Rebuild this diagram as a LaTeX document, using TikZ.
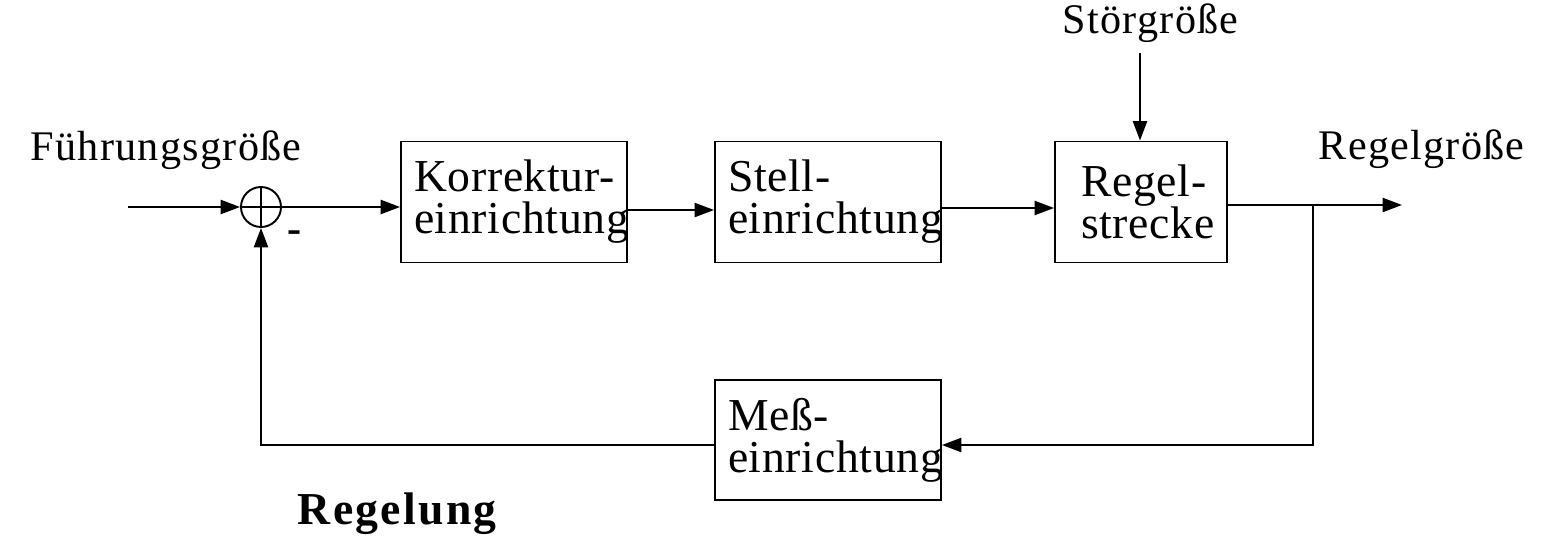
\documentclass[tikz,border=0pt]{standalone}
\usepackage{fontspec}
\setmainfont{Liberation Serif}
\newfontfamily\lblfont{Liberation Serif}[LetterSpace=3]
\newfontfamily\boxfont{Liberation Serif}[LetterSpace=1.5]
\newfontfamily\ttlfont{Liberation Serif}[LetterSpace=5]
\usetikzlibrary{arrows.meta}
\exhyphenpenalty=10000
\hyphenpenalty=10000
\hbadness=10000
\hfuzz=100pt
\begin{document}
\begin{tikzpicture}[x=0.02cm,y=-0.02cm,
  line width=1.1pt,
  conn/.style={-{Triangle[length=11pt,width=8pt]}},
  blk/.style={draw,rectangle,inner ysep=0pt,minimum height=2.42cm,align=left,
    font=\boxfont\fontsize{26}{23.9}\selectfont},
  wide/.style={blk,minimum width=4.52cm,text width=4.0cm,inner xsep=0.26cm},
  lbl/.style={inner sep=0pt,anchor=base west,font=\lblfont\fontsize{24}{24}\selectfont}]
\useasboundingbox (0,0) rectangle (1542,551);
% blocks
\node[wide] (K) at (514,202) {\mbox{Korrektur-}\\\mbox{einrichtung}};
\node[wide] (S) at (828,202) {\mbox{Stell-}\\\mbox{einrichtung}};
\node[blk,minimum width=3.44cm,text width=2.4cm,inner xsep=0.52cm] (R) at (1141,202) {\mbox{Regel-}\\\mbox{strecke}};
\node[wide,minimum height=2.4cm] (M) at (828,440) {\mbox{Meß-}\\\mbox{einrichtung}};
% summing junction
\node[draw,circle,minimum size=0.8cm,inner sep=0pt] (sum) at (261,207) {};
\draw (sum.north) -- (sum.south) (sum.west) -- (sum.east);
% labels
\node[lbl] (fg) at (30,160) {Führungsgröße};
\node[lbl] (rg) at (1318,159) {Regelgröße};
\node[lbl] (sg) at (1062,33) {Störgröße};
\node[inner sep=0pt,anchor=base west,font=\ttlfont\bfseries\fontsize{26}{26}\selectfont] (title) at (297,524) {Regelung};
\node[inner sep=0pt,font=\bfseries\fontsize{24}{24}\selectfont] (minus) at (295,237) {-};
% coordinates
\coordinate (in) at (128,207);
\coordinate (out) at (1402,205);
\coordinate (br) at (1313,205);
\coordinate (dist) at (1140,53);
% connectors
\draw[conn] (in) -- (sum.west);
\draw[conn] (sum.east) -- (sum.east -| K.west);
\draw[conn] ([yshift=-0.16cm]K.east) -- ([yshift=-0.16cm]S.west);
\draw[conn] ([yshift=-0.12cm]S.east) -- ([yshift=-0.12cm]R.west);
\draw[conn] (R.east |- out) -- (out);
\draw[conn] (br) |- ([yshift=-0.1cm]M.east);
\draw[conn] ([yshift=-0.1cm]M.west) -| (sum.south);
\draw[conn] (dist) -- (dist |- R.north);
\end{tikzpicture}
\end{document}
